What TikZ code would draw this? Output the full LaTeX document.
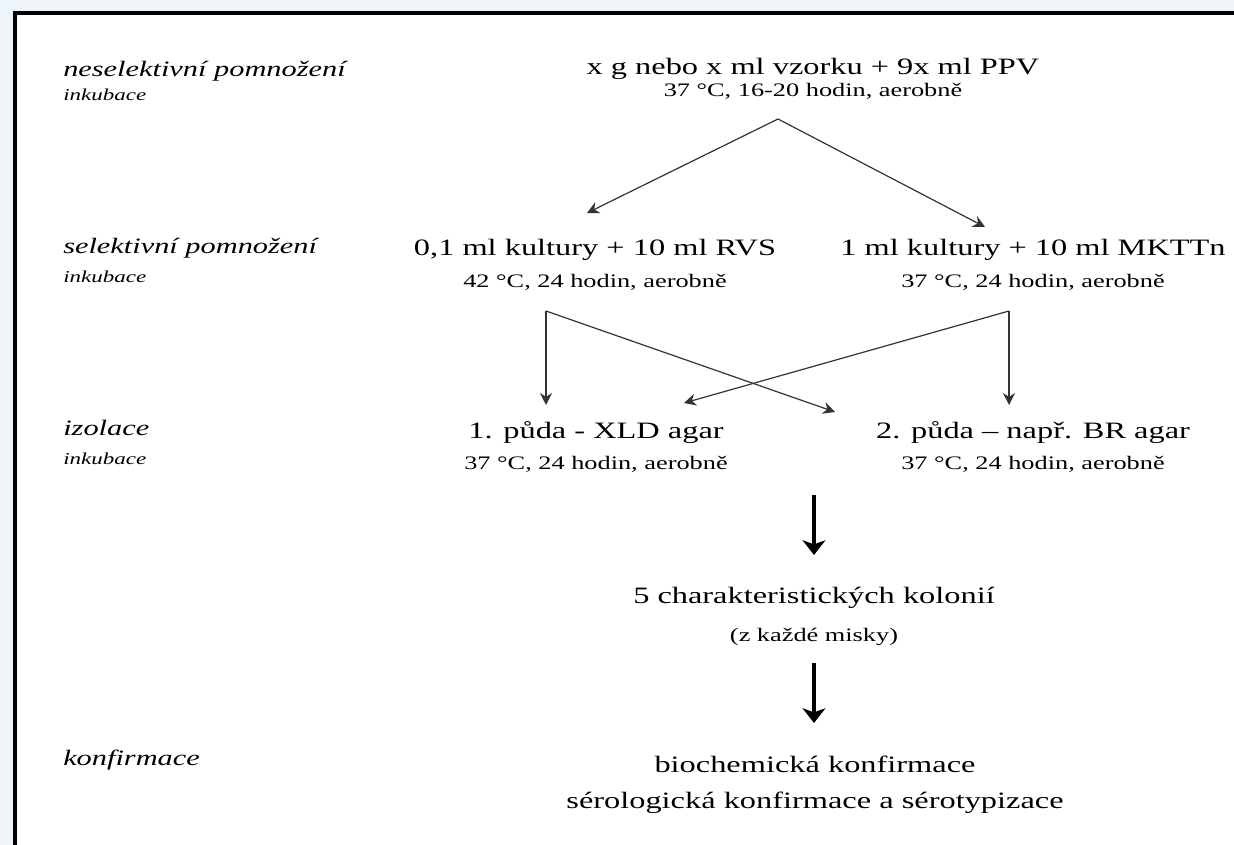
\documentclass[tikz,border=0pt]{standalone}
\usepackage{fontspec}
\setmainfont{Liberation Serif}[FakeStretch=1.38]
\usetikzlibrary{arrows.meta}

\tikzset{
  krok/.style={anchor=base, inner sep=0.75pt, font=\fontsize{17.6}{20}\selectfont},
  podm/.style={anchor=base, inner sep=0.75pt, font=\fontsize{14.3}{17}\selectfont},
  faze/.style={anchor=base west, inner sep=0.75pt, font=\fontsize{16.5}{19}\selectfont\itshape},
  ink/.style={anchor=base west, inner sep=0.75pt, font=\fontsize{12.5}{15}\selectfont\itshape},
  sipka/.style={draw=black!80, line width=0.9pt, -{Stealth[length=9pt,width=9pt]}},
  tlusta/.style={draw=black, line width=2.8pt, -{Stealth[length=11pt,width=17pt,inset=3pt]}}
}

\begin{document}
\begin{tikzpicture}[x=0.75pt,y=0.75pt,yscale=-1,xscale=1]

\useasboundingbox (0,0) rectangle (1234,845);
\fill [color={rgb, 255:red, 237; green, 245; blue, 251 }] (0,0) rectangle (1234,845);
\fill [white] (14,13) rectangle (1234,845);
\draw [line width=3pt] (14.5,845) -- (14.5,13) -- (1234,13);

% faze postupu
\draw (62,77) node [faze] (fNesel) {neselektivní pomnožení};
\draw (62,101) node [ink] (iNesel) {inkubace};
\draw (62,253) node [faze] (fSel) {selektivní pomnožení};
\draw (62,282) node [ink] (iSel) {inkubace};
\draw (62,435) node [faze] (fIzol) {izolace};
\draw (62,464) node [ink] (iIzol) {inkubace};
\draw (62,765) node [faze] (fKonf) {konfirmace};

% kroky
\draw (813,75) node [krok] (vzorek) {x g nebo x ml vzorku + 9x ml PPV};
\draw (813,97) node [podm] (vzorekInk) {37 °C, 16-20 hodin, aerobně};
\draw (595,255) node [krok] (rvs) {0,1 ml kultury + 10 ml RVS};
\draw (595,287) node [podm] (rvsInk) {42 °C, 24 hodin, aerobně};
\draw (1033,255) node [krok] (mkttn) {1 ml kultury + 10 ml MKTTn};
\draw (1033,287) node [podm] (mkttnInk) {37 °C, 24 hodin, aerobně};
\draw (596,438) node [krok] (xld) {1. půda - XLD agar};
\draw (596,469) node [podm] (xldInk) {37 °C, 24 hodin, aerobně};
\draw (1033,438) node [krok] (br) {2. půda – např. BR agar};
\draw (1033,469) node [podm] (brInk) {37 °C, 24 hodin, aerobně};
\draw (814,603) node [krok] (kolonie) {5 charakteristických kolonií};
\draw (814,641) node [podm] (koloInk) {(z každé misky)};
\draw (815,772) node [krok] (biochem) {biochemická konfirmace};
\draw (815,808) node [krok] (sero) {sérologická konfirmace a sérotypizace};

% sipky
\coordinate (rozdel) at (778,119);
\coordinate (doRvs) at (587,213);
\coordinate (doMkttn) at (985,227);
\coordinate (zRvs) at (546,311);
\coordinate (zMkttn) at (1009,311);
\coordinate (rvsXld) at (546,405);
\coordinate (rvsBr) at (835,412);
\coordinate (mkttnXld) at (684,403);
\coordinate (mkttnBr) at (1009,405);
\coordinate (zIzol) at (814,495);
\coordinate (doKol) at (814,555);
\coordinate (zKol) at (814,663);
\coordinate (doKonf) at (814,723);

\draw [sipka] (rozdel) -- (doRvs);
\draw [sipka] (rozdel) -- (doMkttn);
\draw [sipka] (zRvs) -- (rvsXld);
\draw [sipka] (zRvs) -- (rvsBr);
\draw [sipka] (zMkttn) -- (mkttnXld);
\draw [sipka] (zMkttn) -- (mkttnBr);
\draw [tlusta] (zIzol) -- (doKol);
\draw [tlusta] (zKol) -- (doKonf);

\end{tikzpicture}
\end{document}
